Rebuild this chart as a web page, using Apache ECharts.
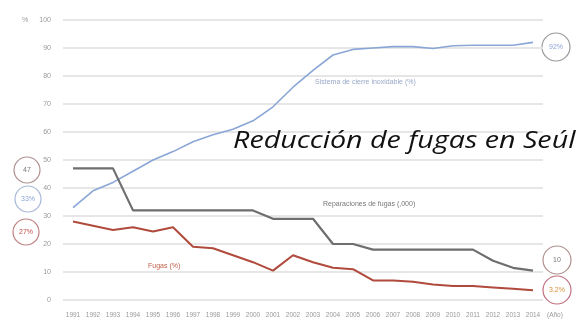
<!DOCTYPE html>
<html><head><meta charset="utf-8">
<script src="https://cdn.jsdelivr.net/npm/echarts@6/dist/echarts.min.js"></script>
<style>html,body{margin:0;padding:0;background:#fff}#c{width:578px;height:322px}</style>
</head><body><div id="c"></div>
<script>
const years = ['1991','1992','1993','1994','1995','1996','1997','1998','1999','2000','2001','2002','2003','2004','2005','2006','2007','2008','2009','2010','2011','2012','2013','2014'];
const sistema = [33,39,42,46,50,53,56.5,59,61,64,69,76,82,87.5,89.5,90,90.5,90.5,89.8,90.8,91,91,91,92];
const reparaciones = [47,47,47,32,32,32,32,32,32,32,29,29,29,20,20,18,18,18,18,18,18,14,11.5,10.5];
const fugas = [28,26.5,25,26,24.5,26,19,18.5,16,13.5,10.5,16,13.5,11.5,11,7,7,6.5,5.5,5,5,4.5,4,3.5];
const yTicks = [0,10,20,30,40,50,60,70,80,90,100];

const chart = echarts.init(document.getElementById('c'));
const lbl = {color:'#999', fontSize:6.5, fontFamily:'Liberation Sans'};
chart.setOption({
  animation:false,
  grid:{left:63, width:480, top:20, height:280},
  xAxis:{type:'category', data:years, boundaryGap:true,
    axisLine:{show:false}, axisTick:{show:false},
    axisLabel:Object.assign({interval:0, margin:12}, lbl),
    name:'(Año)', nameLocation:'end', nameGap:4,
    nameTextStyle:Object.assign({verticalAlign:'top', padding:[12,0,0,0]}, lbl)},
  yAxis:{type:'value', min:0, max:100, interval:10,
    axisLine:{show:false}, axisTick:{show:false},
    axisLabel:Object.assign({margin:12}, lbl, {fontSize:7}),
    splitLine:{lineStyle:{color:'#e6e6e6', width:2}}},
  series:[
    {type:'line', data:sistema, symbol:'none', lineStyle:{color:'#8aa6d6', width:1.6}},
    {type:'line', data:reparaciones, symbol:'none', lineStyle:{color:'#6e6e6e', width:2.2}},
    {type:'line', data:fugas, symbol:'none', lineStyle:{color:'#b04a3c', width:2}}
  ],
  graphic:[
    {type:'text', x:22, y:20, style:{text:'%', fill:'#999', font:'7px Liberation Sans', verticalAlign:'middle'}},
    {type:'text', x:233, y:124, scaleX:1.17, z:100,
      style:{text:'Reducción de fugas en Seúl', fill:'#111', fontSize:24.5, fontStyle:'italic', fontFamily:'Open Sans', lineHeight:34, verticalAlign:'top'}},
    {type:'text', left:315, top:79, style:{text:'Sistema de cierre inoxidable (%)', fill:'#98a8c8', font:'7px Liberation Sans'}},
    {type:'text', left:323, top:201, style:{text:'Reparaciones de fugas (,000)', fill:'#777', font:'7px Liberation Sans'}},
    {type:'text', left:148, top:263, style:{text:'Fugas (%)', fill:'#c0604a', font:'7px Liberation Sans'}},
    {type:'circle', shape:{cx:27, cy:170, r:13}, style:{fill:'#fff', stroke:'#b09090', lineWidth:1.2}},
    {type:'text', x:27, y:170, style:{text:'47', fill:'#777', font:'7px Liberation Sans', align:'center', verticalAlign:'middle'}},
    {type:'circle', shape:{cx:28, cy:199, r:13}, style:{fill:'#fff', stroke:'#a8b8d8', lineWidth:1.2}},
    {type:'text', x:28, y:199, style:{text:'33%', fill:'#8aa6d6', font:'7px Liberation Sans', align:'center', verticalAlign:'middle'}},
    {type:'circle', shape:{cx:26, cy:232, r:13}, style:{fill:'#fff', stroke:'#c08080', lineWidth:1.2}},
    {type:'text', x:26, y:232, style:{text:'27%', fill:'#c0504a', font:'7px Liberation Sans', align:'center', verticalAlign:'middle'}},
    {type:'circle', shape:{cx:556, cy:47, r:14}, style:{fill:'#fff', stroke:'#999', lineWidth:1.2}},
    {type:'text', x:556, y:47, style:{text:'92%', fill:'#8aa6d6', font:'7px Liberation Sans', align:'center', verticalAlign:'middle'}},
    {type:'circle', shape:{cx:557, cy:260, r:14}, style:{fill:'#fff', stroke:'#b09090', lineWidth:1.2}},
    {type:'text', x:557, y:260, style:{text:'10', fill:'#777', font:'7px Liberation Sans', align:'center', verticalAlign:'middle'}},
    {type:'circle', shape:{cx:557, cy:290, r:14}, style:{fill:'#fff', stroke:'#c07080', lineWidth:1.2}},
    {type:'text', x:557, y:290, style:{text:'3.2%', fill:'#d8903a', font:'7px Liberation Sans', align:'center', verticalAlign:'middle'}}
  ]
});
</script></body></html>
